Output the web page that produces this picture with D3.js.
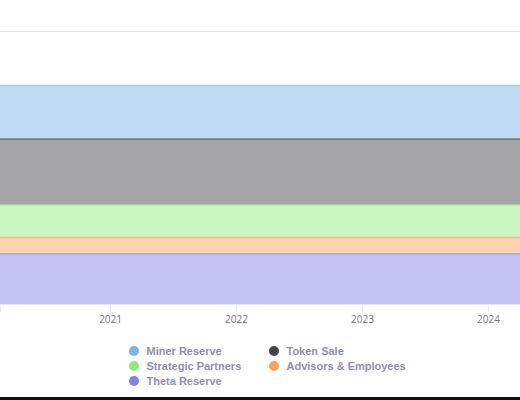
<!DOCTYPE html>
<html>
<head>
<meta charset="utf-8">
<script src="https://cdn.jsdelivr.net/npm/d3@7"></script>
<style>
  body { margin: 0; background: #fff; }
  svg { display: block; }
</style>
</head>
<body>
<script>
// Token allocation (millions of tokens), flat over time
const years = ["2019", "2020", "2021", "2022", "2023", "2024", "2025"];
const seriesNames = ["Miner Reserve", "Token Sale", "Strategic Partners", "Advisors & Employees", "Theta Reserve"];
const minerReserve = [245, 245, 245, 245, 245, 245, 245];
const tokenSale = [300, 300, 300, 300, 300, 300, 300];
const strategicPartners = [150, 150, 150, 150, 150, 150, 150];
const advisorsEmployees = [75, 75, 75, 75, 75, 75, 75];
const thetaReserve = [230, 230, 230, 230, 230, 230, 230];
const tickYears = ["2021", "2022", "2023", "2024"];
const yTicks = [0, 250, 500, 750, 1000, 1250];
const colors = ["#7cb5ec", "#434348", "#90ed7d", "#f7a35c", "#8085e9"];

const width = 520, height = 400;
const parse = d3.timeParse("%Y-%m-%d");

const svg = d3.select("body").append("svg")
    .attr("width", width)
    .attr("height", height);

// build rows for stacking
const valuesBySeries = [minerReserve, tokenSale, strategicPartners, advisorsEmployees, thetaReserve];
const rows = years.map((y, i) => {
    const r = { date: parse(y + "-01-01") };
    seriesNames.forEach((s, k) => { r[s] = valuesBySeries[k][i]; });
    return r;
});

// the plot is cropped: visible window runs from early 2020 to spring 2024
const x = d3.scaleTime()
    .domain([parse("2020-02-17"), parse("2024-04-03")])
    .range([0, width]);

const y = d3.scaleLinear()
    .domain([0, 1250])
    .range([304, 31]);

// grid
svg.append("g").selectAll("line")
    .data(yTicks)
    .enter().append("line")
    .attr("x1", 0).attr("x2", width)
    .attr("y1", d => y(d) + 0.5).attr("y2", d => y(d) + 0.5)
    .attr("stroke", "#e6e6e6")
    .attr("stroke-width", 1);

// first series sits on top, so stack in reverse order
const stack = d3.stack().keys(seriesNames.slice().reverse());
const layers = stack(rows);

const area = d3.area()
    .x(d => x(d.data.date))
    .y0(d => y(d[0]))
    .y1(d => y(d[1]));

const topLine = d3.line()
    .x(d => x(d.data.date))
    .y(d => y(d[1]));

// half-tint of each series colour, painted opaque so the grid stays hidden
const tint = c => d3.interpolateRgb("#ffffff", c)(0.48);

const plot = svg.append("g");

plot.selectAll(".area")
    .data(layers)
    .enter().append("path")
    .attr("d", area)
    .attr("fill", d => tint(colors[seriesNames.indexOf(d.key)]));

plot.selectAll(".line")
    .data(layers)
    .enter().append("path")
    .attr("d", topLine)
    .attr("fill", "none")
    .attr("stroke", d => colors[seriesNames.indexOf(d.key)])
    .attr("stroke-width", 1.5)
    .attr("stroke-opacity", 0.6);

// x axis
const xAxis = d3.axisBottom(x)
    .tickValues(tickYears.map(t => parse(t + "-01-01")))
    .tickFormat(d3.timeFormat("%Y"))
    .tickSize(8)
    .tickPadding(4);

const gx = svg.append("g")
    .attr("transform", "translate(0,304)")
    .call(xAxis);
gx.select(".domain").attr("stroke", "#e3e8f3");
gx.selectAll(".tick line").attr("stroke", "#e3e8f3");
gx.selectAll(".tick text")
    .attr("fill", "#777")
    .style("font-family", "'Open Sans', sans-serif")
    .style("font-size", "10px");

// legend
const legend = svg.append("g")
    .style("font-family", "'Liberation Sans', Arial, sans-serif")
    .style("font-size", "11px")
    .style("font-weight", "bold");

const legendCols = [134, 274];
const legendRows = [351, 366, 381];

seriesNames.forEach((s, i) => {
    const cx = legendCols[i % 2];
    const cy = legendRows[Math.floor(i / 2)];
    const item = legend.append("g");
    item.append("circle")
        .attr("cx", cx).attr("cy", cy).attr("r", 5)
        .attr("fill", colors[i]);
    item.append("text")
        .attr("x", cx + 12.5).attr("y", cy)
        .attr("dy", "0.35em")
        .attr("fill", "#9191a3")
        .text(s);
});

// dark strip along the bottom of the frame
svg.append("rect")
    .attr("x", 0).attr("y", 397)
    .attr("width", width).attr("height", 3)
    .attr("fill", "#111");
</script>
</body>
</html>
